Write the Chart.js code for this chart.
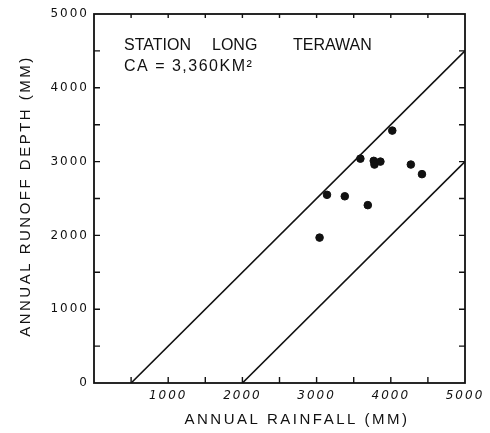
<!DOCTYPE html>
<html>
<head>
<meta charset="utf-8">
<script src="https://cdn.jsdelivr.net/npm/chart.js@4.4.0/dist/chart.umd.min.js"></script>
<style>
  html, body { margin: 0; padding: 0; background: #fff; }
  #wrap { width: 490px; height: 433px; }
</style>
</head>
<body>
<div id="wrap"><canvas id="c" width="490" height="433"></canvas></div>
<script>
// Annual rainfall vs. annual runoff depth, station Long Terawan
const rainfall = [4020, 3590, 3770, 3780, 3860, 4270, 4420, 3140, 3380, 3690, 3040];
const runoff   = [3420, 3040, 3010, 2960, 3000, 2960, 2830, 2550, 2530, 2410, 1970];

// Envelope lines bounding the observations
const upperRain = [500, 5000];
const upperRunoff = [0, 4500];
const lowerRain = [2000, 5000];
const lowerRunoff = [0, 3000];

const xTickLabels = [1000, 2000, 3000, 4000, 5000];
const yTickLabels = [0, 1000, 2000, 3000, 4000, 5000];

const stationWords = ['STATION', 'LONG', 'TERAWAN'];
const areaLabel = 'CA = 3,360KM\u00B2';
const xTitle = 'ANNUAL RAINFALL (MM)';
const yTitle = 'ANNUAL RUNOFF DEPTH (MM)';

const INK = '#111';
const FAMILY = '"Liberation Sans", Arial, sans-serif';
const TICK_FAMILY = '"DejaVu Sans", "Liberation Sans", sans-serif';

const toPoints = (xs, ys) => xs.map((x, i) => ({ x, y: ys[i] }));

// Frame, inward ticks, axis titles and station note
const decorations = {
  id: 'decorations',
  beforeDraw(chart) {
    chart.ctx.letterSpacing = '2px';
  },
  afterDraw(chart) {
    const { ctx, chartArea: a, scales: { x, y } } = chart;
    ctx.save();
    ctx.letterSpacing = '0px';
    ctx.strokeStyle = INK;
    ctx.lineWidth = 1.8;
    ctx.strokeRect(a.left, a.top, a.right - a.left, a.bottom - a.top);

    ctx.lineWidth = 1.4;
    ctx.beginPath();
    for (let v = 500; v < 5000; v += 500) {
      const px = x.getPixelForValue(v);
      ctx.moveTo(px, a.bottom); ctx.lineTo(px, a.bottom - 6);
      ctx.moveTo(px, a.top); ctx.lineTo(px, a.top + 4);
      const py = y.getPixelForValue(v);
      ctx.moveTo(a.left, py); ctx.lineTo(a.left + 6, py);
      ctx.moveTo(a.right, py); ctx.lineTo(a.right - 6, py);
    }
    ctx.stroke();

    ctx.fillStyle = INK;
    ctx.font = '16px ' + FAMILY;
    ctx.textBaseline = 'alphabetic';
    ctx.textAlign = 'left';
    const wordX = [124, 212, 293];
    stationWords.forEach((w, i) => ctx.fillText(w, wordX[i], 50));
    ctx.letterSpacing = '1.5px';
    ctx.fillText(areaLabel, 124, 71);

    ctx.font = '15px ' + FAMILY;
    ctx.letterSpacing = '2.5px';
    ctx.textAlign = 'center';
    ctx.textBaseline = 'middle';
    ctx.fillText(xTitle, 297, 420);
    ctx.translate(26, 196);
    ctx.rotate(-Math.PI / 2);
    ctx.fillText(yTitle, 0, 0);
    ctx.restore();
    ctx.letterSpacing = '0px';
  }
};

new Chart(document.getElementById('c'), {
  type: 'scatter',
  data: {
    datasets: [
      {
        label: 'Observed years',
        data: toPoints(rainfall, runoff),
        backgroundColor: INK,
        borderColor: INK,
        pointRadius: 3.8,
        pointHoverRadius: 3.8
      },
      {
        label: 'Upper envelope',
        data: toPoints(upperRain, upperRunoff),
        showLine: true,
        borderColor: INK,
        borderWidth: 1.6,
        pointRadius: 0
      },
      {
        label: 'Lower envelope',
        data: toPoints(lowerRain, lowerRunoff),
        showLine: true,
        borderColor: INK,
        borderWidth: 1.6,
        pointRadius: 0
      }
    ]
  },
  options: {
    responsive: false,
    devicePixelRatio: 1,
    animation: false,
    layout: { padding: { top: 14, right: 25, left: 0, bottom: 0 } },
    plugins: { legend: { display: false }, tooltip: { enabled: false } },
    scales: {
      x: {
        type: 'linear',
        min: 0,
        max: 5000,
        grid: { display: false, drawTicks: false },
        border: { display: false },
        ticks: {
          stepSize: 500,
          autoSkip: false,
          maxRotation: 0,
          padding: 6,
          color: INK,
          font: { family: TICK_FAMILY, size: 12, style: 'italic' },
          callback: v => xTickLabels.includes(v) ? String(v) : ''
        },
        afterFit: s => { s.height = 50; }
      },
      y: {
        type: 'linear',
        min: 0,
        max: 5000,
        grid: { display: false, drawTicks: false },
        border: { display: false },
        ticks: {
          stepSize: 500,
          autoSkip: false,
          padding: 5,
          color: INK,
          font: { family: TICK_FAMILY, size: 12 },
          callback: v => yTickLabels.includes(v) ? String(v) : ''
        },
        afterFit: s => { s.width = 94; }
      }
    }
  },
  plugins: [decorations]
});
</script>
</body>
</html>
